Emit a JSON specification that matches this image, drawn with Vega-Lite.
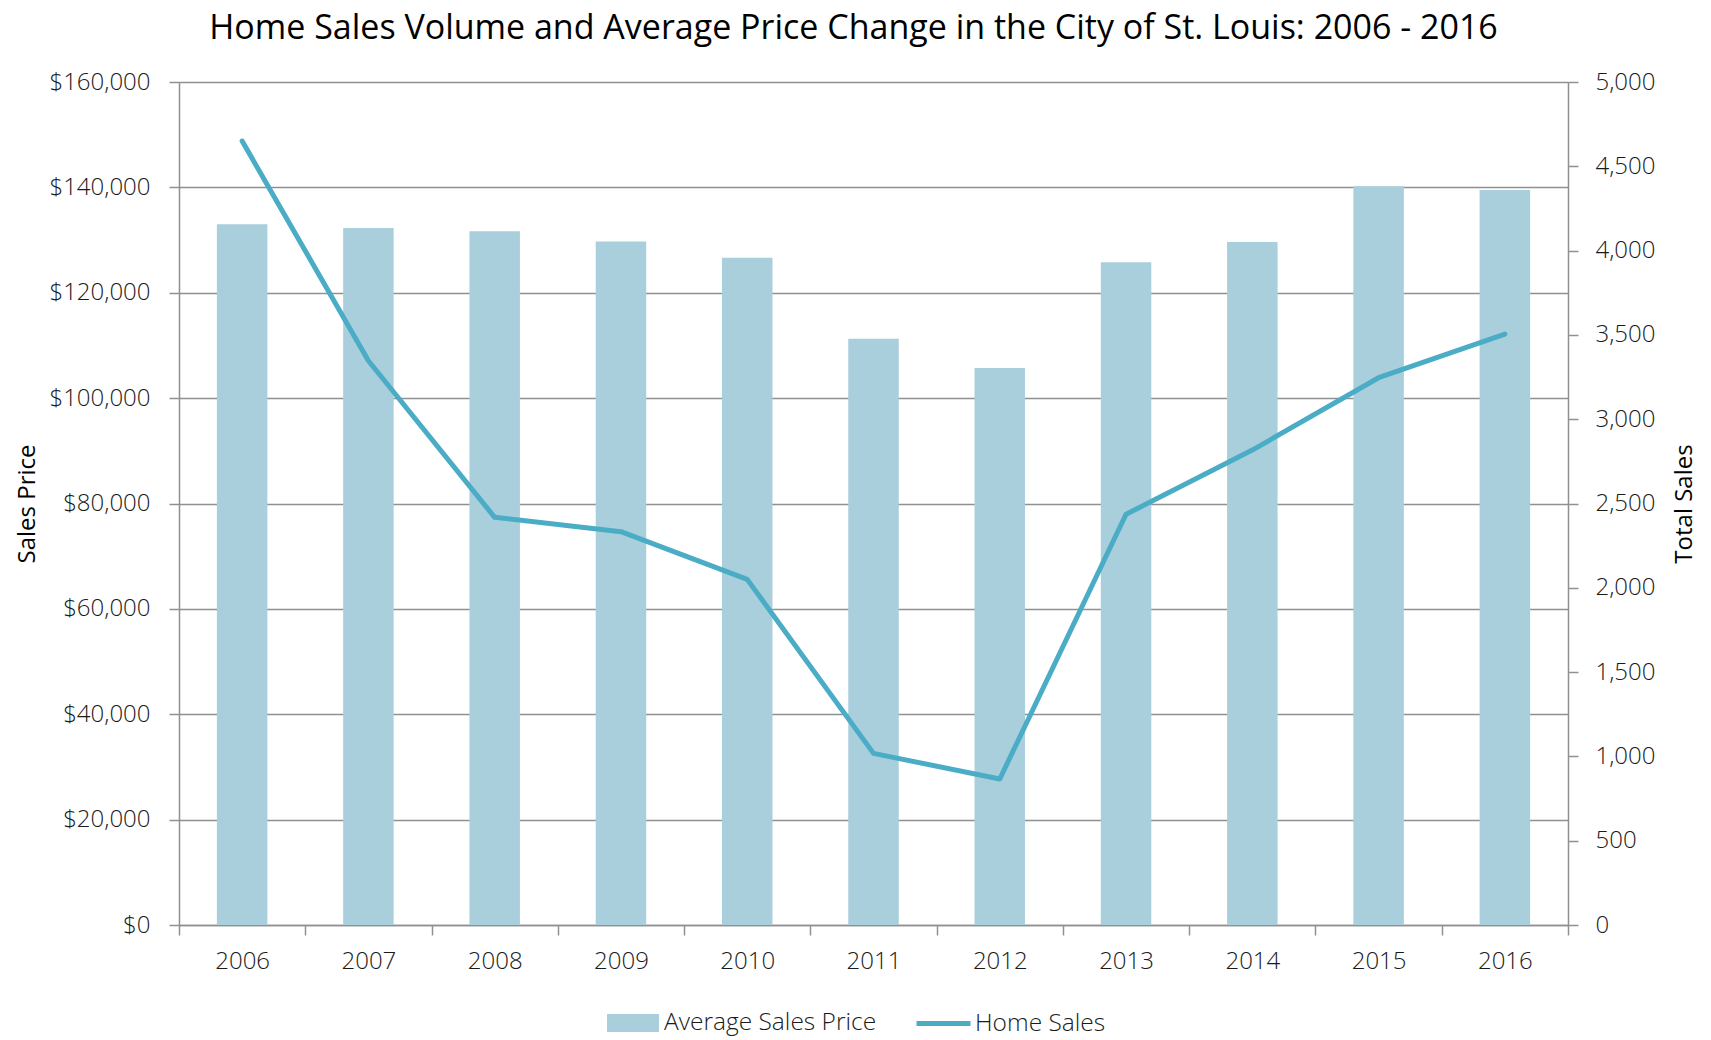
{
  "$schema": "https://vega.github.io/schema/vega-lite/v6.json",
  "width": 1389,
  "height": 843,
  "autosize": "none",
  "padding": {"left": 179, "top": 82, "right": 143, "bottom": 115},
  "background": "white",
  "config": {
    "font": "Open Sans",
    "view": {"stroke": null}
  },
  "title": {
    "text": "Home Sales Volume and Average Price Change in the City of St. Louis: 2006 - 2016",
    "fontSize": 34,
    "font": "Open Sans",
    "fontWeight": "normal",
    "color": "#000000",
    "anchor": "middle",
    "dx": -20,
    "offset": 24
  },
  "data": {
    "values": [
      {"year": "2006", "price": 133000, "sales": 4650},
      {"year": "2007", "price": 132300, "sales": 3347},
      {"year": "2008", "price": 131650, "sales": 2418},
      {"year": "2009", "price": 129750, "sales": 2333},
      {"year": "2010", "price": 126650, "sales": 2050},
      {"year": "2011", "price": 111250, "sales": 1018},
      {"year": "2012", "price": 105700, "sales": 866},
      {"year": "2013", "price": 125800, "sales": 2436},
      {"year": "2014", "price": 129650, "sales": 2817},
      {"year": "2015", "price": 140200, "sales": 3246},
      {"year": "2016", "price": 139500, "sales": 3505}
    ]
  },
  "encoding": {
    "x": {
      "field": "year",
      "type": "ordinal",
      "scale": {"paddingInner": 0, "paddingOuter": 0},
      "axis": {
        "title": null,
        "labelAngle": 0,
        "labelFontSize": 24,
        "labelFontWeight": 300,
        "labelColor": "#1a1a1a",
        "labelPadding": 14,
        "tickBand": "extent",
        "tickSize": 10,
        "tickColor": "#909090",
        "tickWidth": 1.5,
        "domainColor": "#909090",
        "domainWidth": 1.5,
        "grid": false
      }
    }
  },
  "layer": [
    {
      "mark": {"type": "bar", "width": {"band": 0.4}},
      "encoding": {
        "y": {
          "field": "price",
          "type": "quantitative",
          "scale": {"domain": [0, 160000], "nice": false},
          "axis": {
            "title": "Sales Price",
            "titleFontSize": 24,
            "titleFontWeight": "normal",
            "titleColor": "#000000",
            "titleAngle": 270,
            "titleBaseline": "middle",
            "titleX": -152,
            "titleY": 421.5,
            "values": [0, 20000, 40000, 60000, 80000, 100000, 120000, 140000, 160000],
            "format": "$,.0f",
            "labelFontSize": 24,
            "labelFontWeight": 300,
            "labelColor": "#1a1a1a",
            "labelPadding": 19,
            "tickSize": 10,
            "tickColor": "#909090",
            "tickWidth": 1.5,
            "domainColor": "#909090",
            "domainWidth": 1.5,
            "grid": true,
            "gridColor": "#909090",
            "gridWidth": 1.5
          }
        },
        "fill": {
          "datum": "Average Sales Price",
          "type": "nominal",
          "scale": {"range": ["#A9CFDC"]},
          "legend": {
            "title": null,
            "orient": "none",
            "legendX": 428,
            "legendY": 915,
            "padding": 0,
            "symbolType": "M-1,-0.346H1V0.346H-1Z",
            "symbolSize": 2704,
            "symbolStrokeWidth": 0,
            "labelOffset": 5,
            "labelLimit": 500,
            "labelFontSize": 24.5,
            "labelFontWeight": 300,
            "labelColor": "#1a1a1a"
          }
        }
      }
    },
    {
      "mark": {"type": "line", "strokeWidth": 5, "strokeCap": "round", "strokeJoin": "round"},
      "encoding": {
        "y": {
          "field": "sales",
          "type": "quantitative",
          "scale": {"domain": [0, 5000], "nice": false},
          "axis": {
            "orient": "right",
            "title": "Total Sales",
            "titleFontSize": 24,
            "titleFontWeight": "normal",
            "titleColor": "#000000",
            "titleAngle": 270,
            "titleBaseline": "middle",
            "titleX": 116,
            "titleY": 421.5,
            "values": [0, 500, 1000, 1500, 2000, 2500, 3000, 3500, 4000, 4500, 5000],
            "format": ",.0f",
            "labelFontSize": 24,
            "labelFontWeight": 300,
            "labelColor": "#1a1a1a",
            "labelPadding": 17,
            "tickSize": 10,
            "tickColor": "#909090",
            "tickWidth": 1.5,
            "domainColor": "#909090",
            "domainWidth": 1.5,
            "grid": false
          }
        },
        "stroke": {
          "datum": "Home Sales",
          "type": "nominal",
          "scale": {"range": ["#4BACC6"]},
          "legend": {
            "title": null,
            "orient": "none",
            "legendX": 735,
            "legendY": 912,
            "padding": 0,
            "symbolType": "stroke",
            "symbolSize": 2916,
            "symbolStrokeWidth": 5,
            "labelOffset": 2,
            "labelLimit": 500,
            "labelFontSize": 24.5,
            "labelFontWeight": 300,
            "labelColor": "#1a1a1a"
          }
        }
      }
    }
  ],
  "resolve": {"scale": {"y": "independent"}}
}
